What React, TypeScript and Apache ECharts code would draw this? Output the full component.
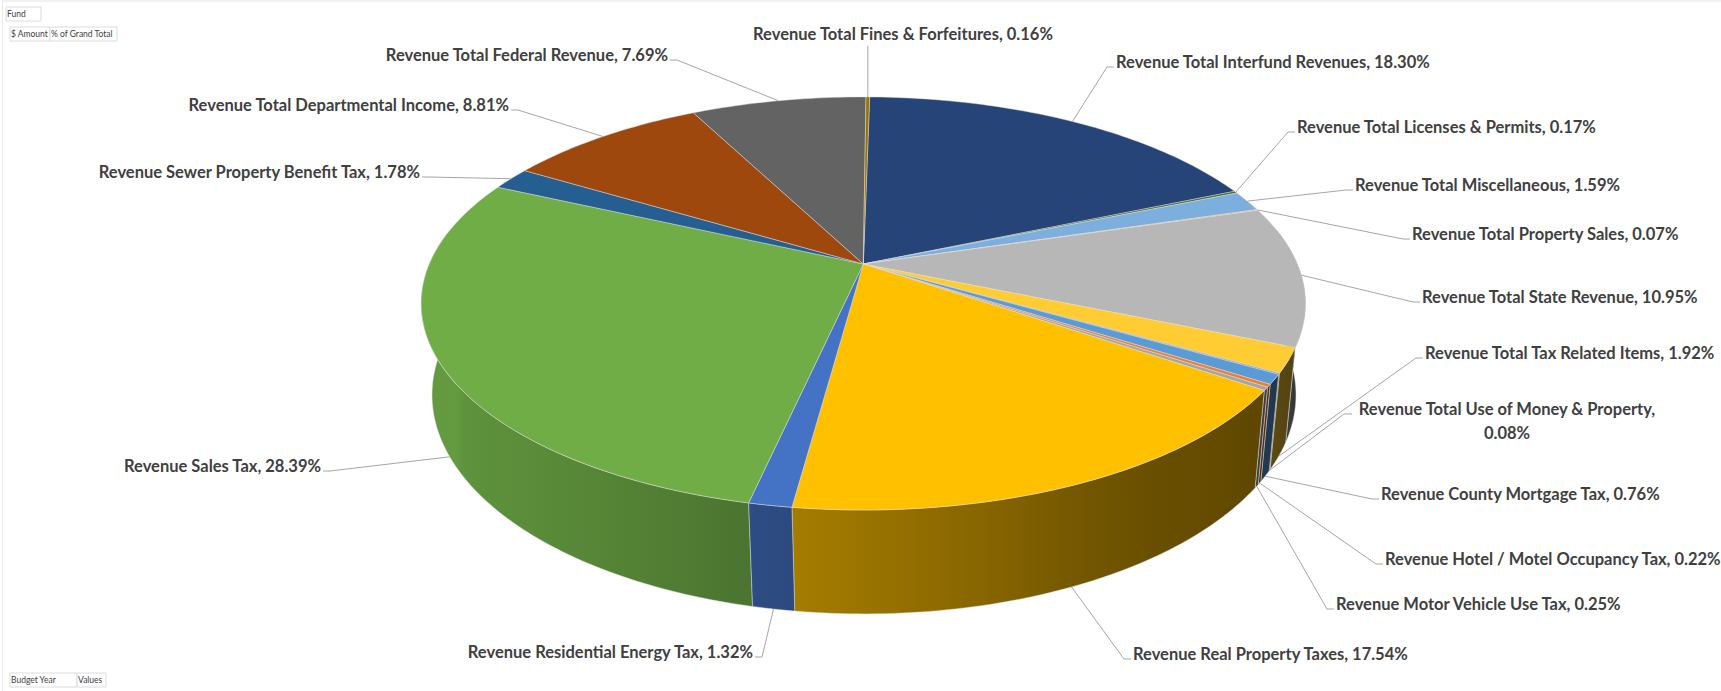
import React, { useEffect, useRef } from "react";
import * as echarts from "echarts";

const categories = [
  "Revenue Total Interfund Revenues", "Revenue Total Licenses & Permits", "Revenue Total Miscellaneous",
  "Revenue Total Property Sales", "Revenue Total State Revenue", "Revenue Total Tax Related Items",
  "Revenue Total Use of Money & Property", "Revenue County Mortgage Tax", "Revenue Hotel / Motel Occupancy Tax",
  "Revenue Motor Vehicle Use Tax", "Revenue Real Property Taxes", "Revenue Residential Energy Tax",
  "Revenue Sales Tax", "Revenue Sewer Property Benefit Tax", "Revenue Total Departmental Income",
  "Revenue Total Federal Revenue", "Revenue Total Fines & Forfeitures",
];
const shares = [18.30, 0.17, 1.59, 0.07, 10.95, 1.92, 0.08, 0.76, 0.22, 0.25, 17.54, 1.32, 28.39, 1.78, 8.81, 7.69, 0.16];
const colors = [
  "#264478", "#43682B", "#7CAFDD", "#F1975A", "#B7B7B7", "#FFCD33", "#698ED0", "#5B9BD5", "#ED7D31",
  "#A5A5A5", "#FFC000", "#4472C4", "#70AD47", "#255E91", "#9E480E", "#636363", "#997300",
];
// label anchor: [x, y, side]
const labelLayout: [number, number, string][] = [
  [1116, 62, "left"], [1297, 127, "left"], [1355, 185, "left"], [1412, 234, "left"], [1422, 297, "left"],
  [1425, 353, "left"], [1507, 409, "center"], [1381, 494, "left"], [1385, 559, "left"], [1336, 604, "left"],
  [1133, 654, "left"], [753, 652, "right"], [321, 466, "right"], [420, 172, "right"], [509, 105, "right"],
  [668, 55, "right"], [903, 34, "center"],
];
const shadeAngles = [80, 110, 124, 150, 170, 188, 215, 250, 280];
const shadeValues = [0.28, 0.32, 0.37, 0.42, 0.55, 0.65, 0.79, 0.88, 0.9];
const pivotBoxes: [string, number, number, number][] = [
  ["Fund", 6, 7, 35], ["$ Amount", 10, 27, 40], ["% of Grand Total", 50, 27, 67],
  ["Budget Year", 10, 673, 67], ["Values", 77, 673, 29],
];

const CX = 863.3, CY = 264, A = 434, B = 199, K = 0.191, ROT = 1, C = 0.0227, D = 92, E = 0.7;
const FONT = "bold 16.5px Lato";

function project(deg: number, z: number): [number, number] {
  const t = (deg * Math.PI) / 180;
  const u = Math.sin(t), v = -Math.cos(t);
  const w = 1 - K * v + C * z;
  return [CX + (A * u + E * z) / w, CY + (B * v + D * z) / w];
}
const bounds: [number, number][] = [];
shares.reduce((acc, s) => {
  bounds.push([ROT + acc * 3.6, ROT + (acc + s) * 3.6]);
  return acc + s;
}, 0);

function arc(from: number, to: number, z: number) {
  const n = Math.max(2, Math.ceil(Math.abs(to - from)));
  const out: [number, number][] = [];
  for (let i = 0; i <= n; i++) out.push(project(from + ((to - from) * i) / n, z));
  return out;
}
function shade(hex: string, f: number) {
  const n = parseInt(hex.slice(1), 16);
  return `rgb(${Math.round((n >> 16) * f)},${Math.round(((n >> 8) & 255) * f)},${Math.round((n & 255) * f)})`;
}
function shadeAt(deg: number) {
  for (let i = 1; i < shadeAngles.length; i++) {
    if (deg <= shadeAngles[i]) {
      const r = (deg - shadeAngles[i - 1]) / (shadeAngles[i] - shadeAngles[i - 1]);
      return shadeValues[i - 1] + r * (shadeValues[i] - shadeValues[i - 1]);
    }
  }
  return shadeValues[shadeValues.length - 1];
}

const edge = "rgba(225,225,225,0.65)";
const seriesData = shares.map((s, i) => [i, s]);
// painter order for side walls: back to front
const wallOrder = shares
  .map((_, i) => i)
  .sort((a, b) => {
    const da = -Math.cos(((bounds[a][0] + bounds[a][1]) / 2) * Math.PI / 180);
    const db = -Math.cos(((bounds[b][0] + bounds[b][1]) / 2) * Math.PI / 180);
    return da - db;
  });

function renderWall(_: any, api: any) {
  const i = api.value(0);
  const from = Math.max(bounds[i][0], 80), to = Math.min(bounds[i][1], 280);
  if (to <= from) return null;
  const top = arc(from, to, 0), bot = arc(from, to, 1);
  const pts = [...top, ...bot.reverse()];
  const xs = pts.map((p) => p[0]);
  const minX = Math.min(...xs), maxX = Math.max(...xs);
  const stops: { offset: number; color: string }[] = [];
  for (let s = 0; s <= 6; s++) {
    const d = from + ((to - from) * s) / 6;
    const off = (project(d, 0.5)[0] - minX) / Math.max(1, maxX - minX);
    stops.push({ offset: Math.min(1, Math.max(0, off)), color: shade(colors[i], shadeAt(d)) });
  }
  stops.sort((a, b) => a.offset - b.offset);
  return {
    type: "polygon",
    shape: { points: pts },
    style: { fill: new echarts.graphic.LinearGradient(0, 0, 1, 0, stops), stroke: edge, lineWidth: 0.7 },
  };
}
function renderTop(_: any, api: any) {
  const i = api.value(0);
  return {
    type: "polygon",
    shape: { points: [[CX, CY], ...arc(bounds[i][0], bounds[i][1], 0)] },
    style: { fill: colors[i], stroke: edge, lineWidth: 0.7 },
  };
}
function renderLabel(_: any, api: any) {
  const i = api.value(0);
  const [lx, ly, side] = labelLayout[i];
  const mid = (bounds[i][0] + bounds[i][1]) / 2;
  const onWall = -Math.cos((mid * Math.PI) / 180) > 0.2;
  const anchor = project(mid, onWall ? 1 : 0);
  const text = `${categories[i]}, ${api.value(1).toFixed(2)}%`;
  const children: any[] = [];
  let line: number[][];
  if (i === shares.length - 1) line = [anchor, [anchor[0], ly + 12]];
  else if (i === 6) line = [anchor, [1344, ly + 5], [1352, ly + 5]];
  else if (side === "left") line = [anchor, [lx - 9, ly + 5], [lx - 2, ly + 5]];
  else line = [anchor, [lx + 9, ly + 5], [lx + 2, ly + 5]];
  children.push({
    type: "polyline",
    shape: { points: line },
    style: { stroke: "#a6a6a6", lineWidth: 1, fill: "none" },
  });
  if (i === 6) {
    const cut = text.indexOf(" 0.08%");
    children.push({ type: "text", style: { text: text.slice(0, cut), x: lx, y: ly, font: FONT, fill: "#404040", align: side, verticalAlign: "middle" } });
    children.push({ type: "text", style: { text: text.slice(cut + 1), x: lx, y: ly + 24, font: FONT, fill: "#404040", align: side, verticalAlign: "middle" } });
  } else {
    children.push({ type: "text", style: { text, x: lx, y: ly, font: FONT, fill: "#404040", align: side, verticalAlign: "middle" } });
  }
  return { type: "group", children };
}

export default function App() {
  const ref = useRef<HTMLDivElement>(null);
  useEffect(() => {
    const chart = echarts.init(ref.current!, undefined, { renderer: "svg" });
    const boxes: any[] = [
      { type: "line", shape: { x1: 2, y1: 1, x2: 1721, y2: 1 }, style: { stroke: "#e4e4e4", lineWidth: 1 } },
      { type: "line", shape: { x1: 2.5, y1: 1, x2: 2.5, y2: 691 }, style: { stroke: "#e9e9e9", lineWidth: 1 } },
    ];
    pivotBoxes.forEach(([t, x, y, w]) => {
      boxes.push({ type: "rect", shape: { x, y, width: w, height: 14 }, style: { fill: "#fff", stroke: "#dcdcdc", lineWidth: 1 } });
      boxes.push({ type: "text", x: x + 1, y: y + 7, style: { text: t, font: "8.5px Lato", fill: "#404040", verticalAlign: "middle" } });
    });
    chart.setOption({
      animation: false,
      backgroundColor: "#ffffff",
      graphic: boxes,
      series: [
        { type: "custom", coordinateSystem: "none", silent: true, clip: false, z: 2, renderItem: renderWall, data: wallOrder.map((i) => seriesData[i]) },
        { type: "custom", coordinateSystem: "none", silent: true, clip: false, z: 3, renderItem: renderTop, data: seriesData },
        { type: "custom", coordinateSystem: "none", silent: true, clip: false, z: 4, renderItem: renderLabel, data: seriesData },
      ],
    });
    return () => chart.dispose();
  }, []);
  return <div ref={ref} style={{ position: "fixed", left: 0, top: 0, width: 1721, height: 691 }} />;
}
